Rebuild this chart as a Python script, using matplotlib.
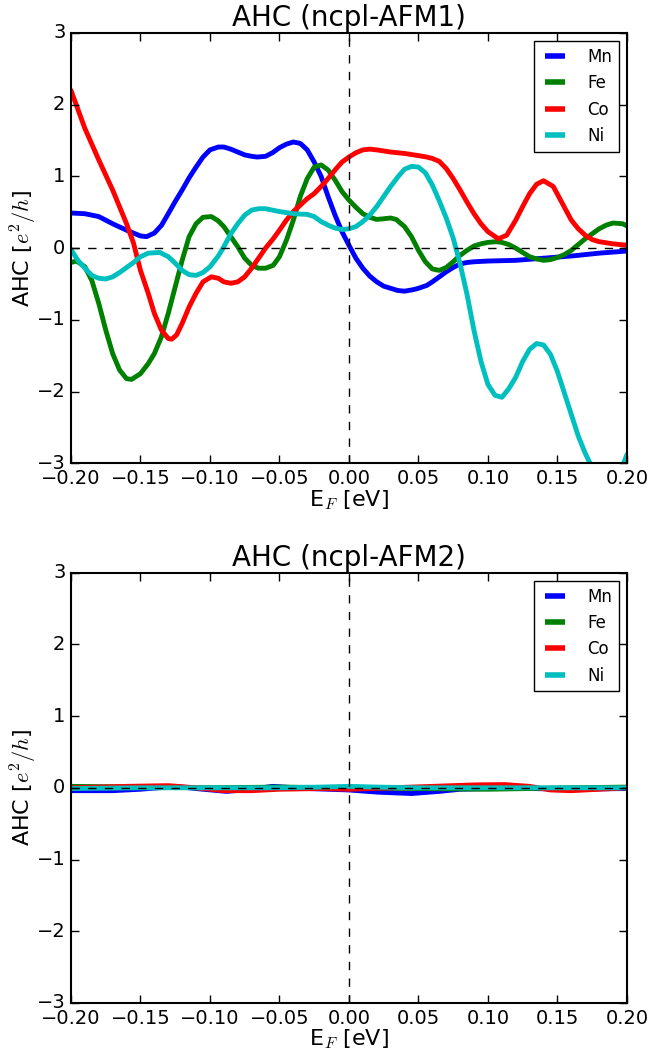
import matplotlib
matplotlib.use("Agg")
import matplotlib.pyplot as plt

# ---------------- data ----------------
labels = ["Mn", "Fe", "Co", "Ni"]
colors = ["b", "g", "r", "c"]

# ncpl-AFM1
mn1_x = [-0.2, -0.19, -0.18, -0.17, -0.16, -0.15, -0.1456, -0.14, -0.1348, -0.13, -0.125, -0.12, -0.115,
         -0.11, -0.105, -0.10, -0.094, -0.09, -0.085, -0.08, -0.075, -0.07, -0.066, -0.06, -0.055, -0.05,
         -0.045, -0.04, -0.035, -0.03, -0.025, -0.02, -0.015, -0.01, -0.005, 0.0, 0.005, 0.01, 0.015,
         0.02, 0.025, 0.03, 0.035, 0.04, 0.046, 0.05, 0.056, 0.06, 0.065, 0.07, 0.075, 0.08, 0.085,
         0.09, 0.10, 0.12, 0.14, 0.16, 0.18, 0.20]
mn1_y = [0.49, 0.48, 0.44, 0.34, 0.25, 0.17, 0.16, 0.21, 0.32, 0.48, 0.65, 0.81, 0.98,
         1.13, 1.27, 1.37, 1.41, 1.41, 1.38, 1.34, 1.30, 1.28, 1.27, 1.28, 1.33, 1.40,
         1.45, 1.48, 1.46, 1.37, 1.20, 1.00, 0.72, 0.46, 0.23, 0.04, -0.14, -0.28, -0.39,
         -0.47, -0.53, -0.56, -0.59, -0.60, -0.58, -0.56, -0.52, -0.47, -0.40, -0.33, -0.27, -0.22, -0.20,
         -0.19, -0.18, -0.17, -0.14, -0.11, -0.07, -0.04]

fe1_x = [-0.2, -0.196, -0.19, -0.185, -0.18, -0.175, -0.17, -0.165, -0.16, -0.1564, -0.15, -0.1444, -0.14,
         -0.135, -0.13, -0.125, -0.12, -0.115, -0.11, -0.105, -0.099, -0.094, -0.09, -0.085, -0.08, -0.075,
         -0.07, -0.065, -0.06, -0.0545, -0.05, -0.045, -0.04, -0.035, -0.03, -0.025, -0.02, -0.015, -0.01,
         -0.005, 0.0, 0.005, 0.01, 0.015, 0.02, 0.025, 0.03, 0.034, 0.04, 0.045, 0.05, 0.055, 0.06, 0.065,
         0.07, 0.075, 0.08, 0.085, 0.09, 0.095, 0.10, 0.106, 0.11, 0.115, 0.12, 0.125, 0.13, 0.135, 0.14,
         0.145, 0.15, 0.155, 0.16, 0.165, 0.17, 0.175, 0.18, 0.185, 0.19, 0.197, 0.20]
fe1_y = [-0.20, -0.18, -0.26, -0.45, -0.77, -1.14, -1.47, -1.70, -1.82, -1.83, -1.75, -1.61, -1.47,
         -1.24, -0.91, -0.54, -0.17, 0.16, 0.34, 0.43, 0.44, 0.38, 0.30, 0.16, 0.02, -0.14,
         -0.24, -0.28, -0.28, -0.24, -0.12, 0.11, 0.39, 0.72, 0.97, 1.13, 1.16, 1.09, 0.95,
         0.79, 0.67, 0.57, 0.48, 0.43, 0.40, 0.41, 0.42, 0.40, 0.30, 0.16, -0.03, -0.19, -0.29, -0.31,
         -0.27, -0.19, -0.10, -0.03, 0.03, 0.06, 0.08, 0.09, 0.08, 0.05, 0.0, -0.06, -0.12, -0.15, -0.17,
         -0.16, -0.13, -0.09, -0.03, 0.05, 0.13, 0.20, 0.27, 0.32, 0.35, 0.34, 0.31]

co1_x = [-0.2, -0.19, -0.18, -0.17, -0.16, -0.155, -0.15, -0.1444, -0.14, -0.135, -0.13, -0.1276, -0.124,
         -0.12, -0.115, -0.11, -0.105, -0.099, -0.094, -0.09, -0.085, -0.08, -0.075, -0.07, -0.065, -0.06,
         -0.0545, -0.05, -0.045, -0.04, -0.035, -0.03, -0.025, -0.02, -0.015, -0.01, -0.005, 0.0, 0.005,
         0.01, 0.015, 0.02, 0.03, 0.04, 0.05, 0.056, 0.06, 0.065, 0.07, 0.075, 0.08, 0.085, 0.09, 0.095,
         0.10, 0.1075, 0.1135, 0.12, 0.125, 0.13, 0.135, 0.14, 0.147, 0.1542, 0.16, 0.165, 0.17, 0.175,
         0.18, 0.19, 0.20]
co1_y = [2.20, 1.67, 1.23, 0.81, 0.34, 0.07, -0.31, -0.63, -0.91, -1.14, -1.26, -1.27, -1.21,
         -1.05, -0.82, -0.63, -0.47, -0.40, -0.42, -0.47, -0.49, -0.47, -0.40, -0.28, -0.14, 0.0,
         0.13, 0.25, 0.39, 0.51, 0.60, 0.69, 0.76, 0.86, 0.97, 1.09, 1.20, 1.27, 1.33,
         1.37, 1.38, 1.37, 1.34, 1.32, 1.29, 1.27, 1.25, 1.21, 1.11, 0.97, 0.81, 0.64, 0.48, 0.34,
         0.23, 0.13, 0.18, 0.39, 0.58, 0.76, 0.89, 0.94, 0.86, 0.60, 0.39, 0.27, 0.18, 0.12,
         0.09, 0.06, 0.04]

ni1_x = [-0.2, -0.195, -0.19, -0.185, -0.18, -0.175, -0.17, -0.165, -0.16, -0.155, -0.15, -0.1444, -0.136,
         -0.13, -0.125, -0.12, -0.115, -0.11, -0.105, -0.10, -0.094, -0.09, -0.085, -0.08, -0.075, -0.07,
         -0.065, -0.06, -0.05, -0.04, -0.03, -0.025, -0.02, -0.015, -0.01, -0.005, 0.0, 0.005, 0.01,
         0.015, 0.02, 0.025, 0.03, 0.0355, 0.04, 0.045, 0.05, 0.055, 0.06, 0.065, 0.07, 0.075, 0.08,
         0.085, 0.09, 0.095, 0.10, 0.105, 0.11, 0.115, 0.12, 0.125, 0.13, 0.135, 0.14, 0.145, 0.15,
         0.155, 0.16, 0.165, 0.17, 0.175, 0.18, 0.187, 0.193, 0.198, 0.20]
ni1_y = [-0.02, -0.17, -0.28, -0.38, -0.42, -0.43, -0.40, -0.34, -0.27, -0.20, -0.12, -0.07, -0.06,
         -0.12, -0.21, -0.31, -0.37, -0.38, -0.34, -0.26, -0.11, 0.02, 0.20, 0.34, 0.46, 0.53,
         0.55, 0.55, 0.51, 0.48, 0.47, 0.44, 0.37, 0.32, 0.28, 0.26, 0.27, 0.30, 0.37,
         0.46, 0.58, 0.72, 0.86, 1.00, 1.10, 1.14, 1.13, 1.05, 0.88, 0.66, 0.42, 0.14, -0.22,
         -0.65, -1.15, -1.58, -1.90, -2.05, -2.08, -1.96, -1.80, -1.58, -1.41, -1.33, -1.35, -1.48, -1.72,
         -2.02, -2.32, -2.62, -2.86, -3.06, -3.20, -3.28, -3.20, -2.98, -2.88]

# ncpl-AFM2
mn2_x = [-0.2, -0.17, -0.15, -0.125, -0.105, -0.088, -0.07, -0.055, -0.03, 0.0, 0.02, 0.045, 0.065,
         0.08, 0.1, 0.13, 0.16, 0.2]
mn2_y = [-0.04, -0.04, -0.02, 0.02, -0.02, -0.05, -0.02, 0.02, -0.01, -0.03, -0.06, -0.08, -0.05,
         -0.02, -0.01, -0.01, -0.02, -0.01]
fe2_x = [-0.2, -0.15, -0.1, -0.05, 0.0, 0.05, 0.1, 0.13, 0.16, 0.2]
fe2_y = [0.02, 0.01, 0.0, 0.01, 0.0, -0.01, -0.02, -0.01, 0.0, 0.01]
co2_x = [-0.2, -0.16, -0.13, -0.11, -0.09, -0.07, -0.05, -0.02, 0.0, 0.03, 0.06, 0.09, 0.112, 0.13,
         0.145, 0.16, 0.18, 0.2]
co2_y = [0.0, 0.02, 0.03, 0.0, -0.04, -0.04, -0.02, -0.01, -0.02, 0.0, 0.02, 0.04, 0.045, 0.02,
         -0.03, -0.04, -0.02, 0.0]
ni2_x = [-0.2, -0.15, -0.1, -0.05, -0.02, 0.0, 0.02, 0.05, 0.1, 0.15, 0.2]
ni2_y = [-0.01, 0.0, 0.0, 0.0, 0.01, 0.02, 0.01, 0.0, 0.0, 0.0, 0.0]

titles = ["AHC (ncpl-AFM1)", "AHC (ncpl-AFM2)"]
xticks = [-0.20, -0.15, -0.10, -0.05, 0.00, 0.05, 0.10, 0.15, 0.20]
yticks = [-3, -2, -1, 0, 1, 2, 3]

panels = [
    [(mn1_x, mn1_y), (fe1_x, fe1_y), (co1_x, co1_y), (ni1_x, ni1_y)],
    [(mn2_x, mn2_y), (fe2_x, fe2_y), (co2_x, co2_y), (ni2_x, ni2_y)],
]

# ---------------- figure ----------------
plt.style.use("classic")
plt.rcParams["axes.linewidth"] = 1.5
plt.rcParams["font.family"] = ["DejaVu Sans"]
plt.rcParams["mathtext.fontset"] = "cm"

fig = plt.figure(figsize=(6.51, 10.53), dpi=100, facecolor="white")
axes_rects = [
    [0.109, 0.560, 0.854, 0.4087],
    [0.109, 0.0475, 0.854, 0.4087],
]

for rect, series, title in zip(axes_rects, panels, titles):
    ax = fig.add_axes(rect)
    for (xs, ys), lab, col in zip(series, labels, colors):
        ax.plot(xs, ys, color=col, lw=3.5, label=lab,
                solid_joinstyle="round", solid_capstyle="round")
    ax.axhline(0, color="k", ls="--", lw=1)
    ax.axvline(0, color="k", ls="--", lw=1)
    ax.set_xlim(-0.2, 0.2)
    ax.set_ylim(-3, 3)
    ax.set_xticks(xticks)
    ax.set_xticklabels(["%.2f" % t if t >= 0 else "\u2212%.2f" % abs(t) for t in xticks])
    ax.set_yticks(yticks)
    ax.tick_params(labelsize=14, length=6, width=1)
    ax.set_title(title, fontsize=20)
    ax.set_xlabel("E$_F$ [eV]", fontsize=16, labelpad=0)
    ax.set_ylabel("AHC [$e^2/h$]", fontsize=16, labelpad=-2)
    leg = ax.legend(loc="upper right", fontsize=12, handlelength=1.8, handletextpad=1.0)
    for line in leg.get_lines():
        line.set_linewidth(4)
        line.set_solid_capstyle("butt")

fig.savefig("out.png", dpi=100, facecolor="white")
